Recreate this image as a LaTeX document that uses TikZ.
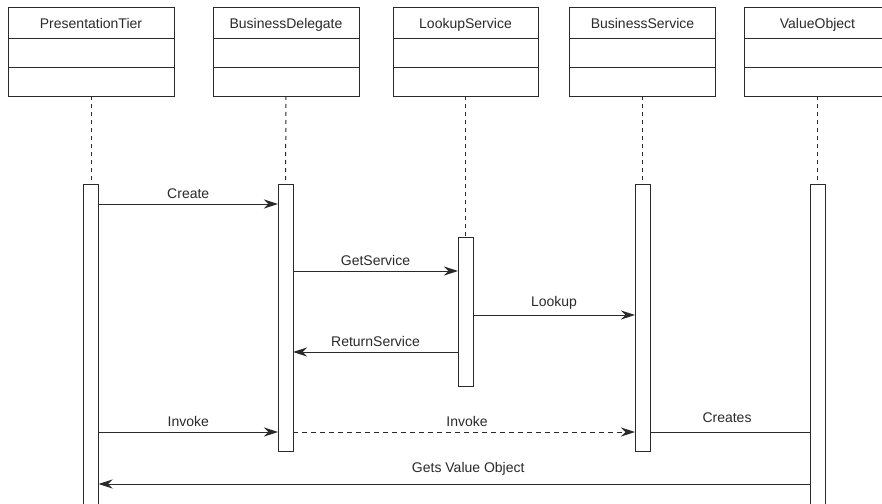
\documentclass[tikz,border=0pt]{standalone}
\usepackage{fontspec}
\setmainfont{Liberation Sans}
\usetikzlibrary{arrows.meta,positioning}
\definecolor{ink}{HTML}{2A2A2A}
\begin{document}
\begin{tikzpicture}[x=1pt,y=-1pt,
  every node/.style={font=\fontsize{14}{16}\selectfont, text=ink},
  hdr/.style={draw=ink, line width=1pt, rectangle, minimum height=31pt, inner sep=0pt, outer sep=0pt, fill=white, text height=10.5pt, text depth=0pt},
  cmp/.style={draw=ink, line width=1pt, rectangle, minimum height=28.5pt, inner sep=0pt, outer sep=0pt},
  actbar/.style={draw=ink, line width=1pt, fill=white, rectangle, minimum width=15pt, inner sep=0pt, outer sep=0pt},
  lifeline/.style={draw=ink, line width=1pt, dash pattern=on 4pt off 4pt},
  msg/.style={draw=ink, line width=1pt, -{Stealth[length=14pt,width=9pt,inset=4.5pt]}},
  dmsg/.style={msg, dash pattern=on 5pt off 4pt},
  plain/.style={draw=ink, line width=1pt},
  lbl/.style={inner sep=0pt, anchor=base}
]
\useasboundingbox (0,0) rectangle (882,503);
\fill[white] (0,0) rectangle (882,503);

% class boxes
\node[hdr, minimum width=166pt] (pt) at (91,23.5) {PresentationTier};
\node[cmp, minimum width=166pt, below=0pt of pt] (pt2) {};
\node[cmp, minimum width=166pt, below=0pt of pt2] (pt3) {};

\node[hdr, minimum width=146pt] (bd) at (286,23.5) {BusinessDelegate};
\node[cmp, minimum width=146pt, below=0pt of bd] (bd2) {};
\node[cmp, minimum width=146pt, below=0pt of bd2] (bd3) {};

\node[hdr, minimum width=145pt] (ls) at (465.5,23.5) {LookupService};
\node[cmp, minimum width=145pt, below=0pt of ls] (ls2) {};
\node[cmp, minimum width=145pt, below=0pt of ls2] (ls3) {};

\node[hdr, minimum width=146pt] (bs) at (642.5,23.5) {BusinessService};
\node[cmp, minimum width=146pt, below=0pt of bs] (bs2) {};
\node[cmp, minimum width=146pt, below=0pt of bs2] (bs3) {};

\node[hdr, minimum width=146pt] (vo) at (817.5,23.5) {ValueObject};
\node[cmp, minimum width=146pt, below=0pt of vo] (vo2) {};
\node[cmp, minimum width=146pt, below=0pt of vo2] (vo3) {};

% activation bars
\node[actbar, minimum height=330pt, anchor=north] (ptbar) at (91,184) {};
\node[actbar, minimum height=267pt, anchor=north] (bdbar) at (285.5,184) {};
\node[actbar, minimum height=149pt, anchor=north] (lsbar) at (465.5,237) {};
\node[actbar, minimum height=267pt, anchor=north] (bsbar) at (642.5,184) {};
\node[actbar, minimum height=330pt, anchor=north] (vobar) at (817.5,184) {};

% lifelines
\draw[lifeline] (pt3.south) -- (ptbar.north);
\draw[lifeline] (bd3.south) -- (bdbar.north);
\draw[lifeline] (ls3.south) -- (lsbar.north);
\draw[lifeline] (bs3.south) -- (bsbar.north);
\draw[lifeline] (vo3.south) -- (vobar.north);

% message levels
\coordinate (yCreate) at (0,204);
\coordinate (yGet) at (0,271);
\coordinate (yLook) at (0,315);
\coordinate (yRet) at (0,352);
\coordinate (yInv) at (0,432);
\coordinate (yVal) at (0,484);

% messages
\draw[msg] (ptbar.east |- yCreate) -- node[lbl, above=5pt] {Create} (bdbar.west |- yCreate);
\draw[msg] (bdbar.east |- yGet) -- node[lbl, above=5pt] {GetService} (lsbar.west |- yGet);
\draw[msg] (lsbar.east |- yLook) -- node[lbl, above=5pt] {Lookup} (bsbar.west |- yLook);
\draw[msg] (lsbar.west |- yRet) -- node[lbl, above=5pt] {ReturnService} (bdbar.east |- yRet);
\draw[msg] (ptbar.east |- yInv) -- node[lbl, above=5pt] {Invoke} (bdbar.west |- yInv);
\draw[dmsg] (bdbar.east |- yInv) -- node[lbl, above=5pt, xshift=3pt] {Invoke} (bsbar.west |- yInv);
\draw[plain] (bsbar.east |- yInv) -- node[lbl, above=9pt, xshift=-3pt] {Creates} (vobar.west |- yInv);
\draw[msg] (vobar.west |- yVal) -- node[lbl, above=8pt, xshift=14pt] {Gets Value Object} (ptbar.east |- yVal);
\end{tikzpicture}
\end{document}
